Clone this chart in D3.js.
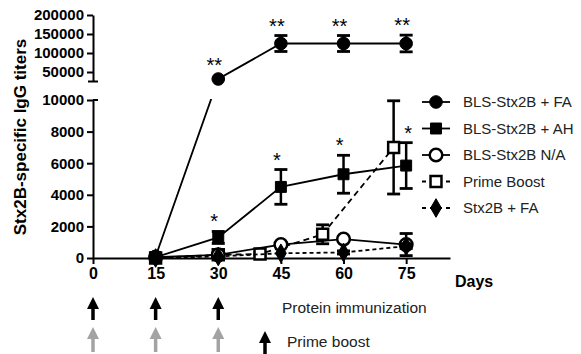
<!DOCTYPE html>
<html><head><meta charset="utf-8">
<script src="https://cdn.jsdelivr.net/npm/d3@7"></script>
<style>body{margin:0;background:#fff}svg{display:block}text{font-family:"Liberation Sans",Arial,sans-serif}</style>
</head><body><svg id="c" width="581" height="354"></svg>
<script>
// ---- data ----
const xTicks = [0, 15, 30, 45, 60, 75];
const yLowTicks = [0, 2000, 4000, 6000, 8000, 10000];
const yHighTicks = [50000, 100000, 150000, 200000];
const seriesNames = ["BLS-Stx2B + FA", "BLS-Stx2B + AH", "BLS-Stx2B N/A", "Prime Boost", "Stx2B + FA"];
const faDays = [15, 30, 45, 60, 75];
const faVals = [100, 31600, 125000, 125000, 125000];
const faErr  = [0, 0, 21000, 21000, 22000];
const ahDays = [15, 30, 45, 60, 75];
const ahVals = [50, 1300, 4500, 5300, 5850];
const ahErr  = [0, 380, 1100, 1200, 1450];
const naDays = [15, 30, 45, 60, 75];
const naVals = [50, 200, 850, 1200, 850];
const naErr  = [0, 0, 120, 150, 700];
const pbDays = [15, 30, 40, 55, 72];
const pbVals = [0, 200, 250, 1500, 7000];
const pbErr  = [0, 0, 100, 600, 2950];
const sfDays = [15, 30, 45, 60, 75];
const sfVals = [0, 100, 300, 350, 750];
const sfErr  = [0, 0, 0, 100, 150];
const starDays = [30, 45, 60, 75, 30, 45, 60, 75];
const starText = ["**", "**", "**", "**", "*", "*", "*", "*"];
const starSeries = [0, 0, 0, 0, 1, 1, 1, 1];
const arrowDays = [0, 15, 30];
const axisTitle = "Stx2B-specific IgG titers";
const xTitle = "Days";
const note1 = "Protein immunization";
const note2 = "Prime boost";

// ---- scales ----
const svg = d3.select("#c");
const x = d3.scaleLinear().domain([0, 85.5]).range([93, 450]);
const yLow = d3.scaleLinear().domain([0, 10000]).range([258, 100]);
const yHigh = d3.scaleLinear().domain([25000, 200000]).range([81.5, 15]);
const yGap = d3.scaleLinear().domain([10000, 25000]).range([100, 81.5]);
const y = v => v <= 10000 ? yLow(v) : (v >= 25000 ? yHigh(v) : yGap(v));

const defs = svg.append("defs");
const cp = defs.append("clipPath").attr("id", "brk");
cp.append("rect").attr("x", 0).attr("y", 0).attr("width", 581).attr("height", 82);
cp.append("rect").attr("x", 0).attr("y", 99).attr("width", 581).attr("height", 260);

// ---- axes ----
const fontTick = "bold 15px 'Liberation Sans', Arial, sans-serif";
const gLow = svg.append("g").attr("transform", "translate(93,0)")
  .call(d3.axisLeft(yLow).tickValues(yLowTicks).tickSize(6).tickSizeOuter(0).tickPadding(3).tickFormat(d3.format("d")));
const gHigh = svg.append("g").attr("transform", "translate(93,0)")
  .call(d3.axisLeft(yHigh).tickValues(yHighTicks).tickSize(6).tickSizeOuter(0).tickPadding(3).tickFormat(d3.format("d")));
const gX = svg.append("g").attr("transform", "translate(0,258)")
  .call(d3.axisBottom(x).tickValues(xTicks).tickSize(6).tickSizeOuter(0).tickPadding(4));
[gLow, gHigh, gX].forEach(g => {
  g.selectAll("path,line").attr("stroke", "#000").attr("stroke-width", 2);
  g.selectAll("text").attr("fill", "#000").style("font", fontTick);
});
gX.selectAll("text").style("font-size", "16px");
// break marks
svg.append("line").attr("x1", 88).attr("x2", 98).attr("y1", 81.5).attr("y2", 81.5).attr("stroke", "#000").attr("stroke-width", 2);
svg.append("line").attr("x1", 93).attr("x2", 98).attr("y1", 100).attr("y2", 100).attr("stroke", "#000").attr("stroke-width", 2);

svg.append("text").attr("transform", `translate(26,${137}) rotate(-90)`).attr("text-anchor", "middle")
  .style("font", "bold 17px 'Liberation Sans', Arial, sans-serif").text(axisTitle);
svg.append("text").attr("x", 455).attr("y", 287).style("font", "bold 16px 'Liberation Sans', Arial, sans-serif").text(xTitle);

// ---- series ----
const series = [
  {days: faDays, vals: faVals, err: faErr, marker: "circle", fill: "#000", dash: null},
  {days: ahDays, vals: ahVals, err: ahErr, marker: "square", fill: "#000", dash: null},
  {days: naDays, vals: naVals, err: naErr, marker: "circle", fill: "#fff", dash: null},
  {days: pbDays, vals: pbVals, err: pbErr, marker: "square", fill: "#fff", dash: "6,4"},
  {days: sfDays, vals: sfVals, err: sfErr, marker: "diamond", fill: "#000", dash: "4,3"}
];
const symPath = {
  circle: d3.symbol().type(d3.symbolCircle).size(125)(),
  square: d3.symbol().type(d3.symbolSquare).size(120)(),
  diamond: d3.symbol().type(d3.symbolDiamond).size(100)()
};
const line = d3.line().x(d => x(d[0])).y(d => y(d[1]));
const drawOrder = [3, 2, 4, 1, 0];
drawOrder.forEach(i => {
  const s = series[i];
  const pts = s.days.map((d, j) => [d, s.vals[j], s.err[j]]);
  svg.append("path").datum(pts).attr("d", line).attr("fill", "none").attr("stroke", "#000")
    .attr("stroke-width", 1.8).attr("stroke-dasharray", s.dash).attr("clip-path", "url(#brk)");
  const eb = svg.append("g");
  pts.filter(p => p[2] > 0).forEach(p => {
    const cx = x(p[0]), t = y(p[1] + p[2]), b = y(p[1] - p[2]);
    eb.append("line").attr("x1", cx).attr("x2", cx).attr("y1", t).attr("y2", b).attr("stroke", "#000").attr("stroke-width", 2.5);
    [t, b].forEach(yy => eb.append("line").attr("x1", cx - 6.5).attr("x2", cx + 6.5).attr("y1", yy).attr("y2", yy).attr("stroke", "#000").attr("stroke-width", 2.8));
  });
  svg.append("g").selectAll("path").data(pts).join("path")
    .attr("d", symPath[s.marker]).attr("transform", p => `translate(${x(p[0])},${y(p[1])})`)
    .attr("fill", s.fill).attr("stroke", "#000").attr("stroke-width", s.fill === "#fff" ? 2.5 : 1);
});

// ---- significance stars ----
starDays.forEach((d, k) => {
  const s = series[starSeries[k]];
  const j = s.days.indexOf(d);
  const topY = s.err[j] > 0 ? y(s.vals[j] + s.err[j]) - 15 : y(s.vals[j]) - 19;
  svg.append("text").attr("x", x(d) + (starSeries[k] === 1 && d === 75 ? 2 : -4)).attr("y", topY + 12)
    .attr("text-anchor", "middle").style("font", "20px 'Liberation Sans', Arial, sans-serif").text(starText[k]);
});

// ---- legend ----
const leg = svg.append("g");
seriesNames.forEach((name, i) => {
  const s = series[i];
  const ly = 102 + i * 26.5;
  leg.append("line").attr("x1", 422).attr("x2", 450).attr("y1", ly).attr("y2", ly).attr("stroke", "#000")
    .attr("stroke-width", 1.8).attr("stroke-dasharray", s.dash ? "4,4" : null);
  leg.append("path").attr("d", symPath[s.marker]).attr("transform", `translate(436,${ly})`)
    .attr("fill", s.fill).attr("stroke", "#000").attr("stroke-width", s.fill === "#fff" ? 2.5 : 1);
  leg.append("text").attr("x", 463).attr("y", ly + 5).attr("fill", "#222")
    .style("font", "15px 'Liberation Sans', Arial, sans-serif").text(name);
});

// ---- immunization arrows ----
function arrow(cx, y0, y1, color) {
  const g = svg.append("g");
  g.append("line").attr("x1", cx).attr("x2", cx).attr("y1", y0 + 8).attr("y2", y1).attr("stroke", color).attr("stroke-width", 3.5);
  g.append("path").attr("d", `M${cx},${y0} L${cx - 6},${y0 + 12} L${cx + 6},${y0 + 12} Z`).attr("fill", color);
}
arrowDays.forEach(d => {
  arrow(x(d), 297, 320, "#000");
  arrow(x(d), 327, 352, "#a3a3a3");
});
arrow(265, 331, 354, "#000");
svg.append("text").attr("x", 282).attr("y", 313).style("font", "15.5px 'Liberation Sans', Arial, sans-serif").attr("fill", "#222").text(note1);
svg.append("text").attr("x", 287).attr("y", 347).style("font", "15.5px 'Liberation Sans', Arial, sans-serif").attr("fill", "#222").text(note2);
</script></body></html>
